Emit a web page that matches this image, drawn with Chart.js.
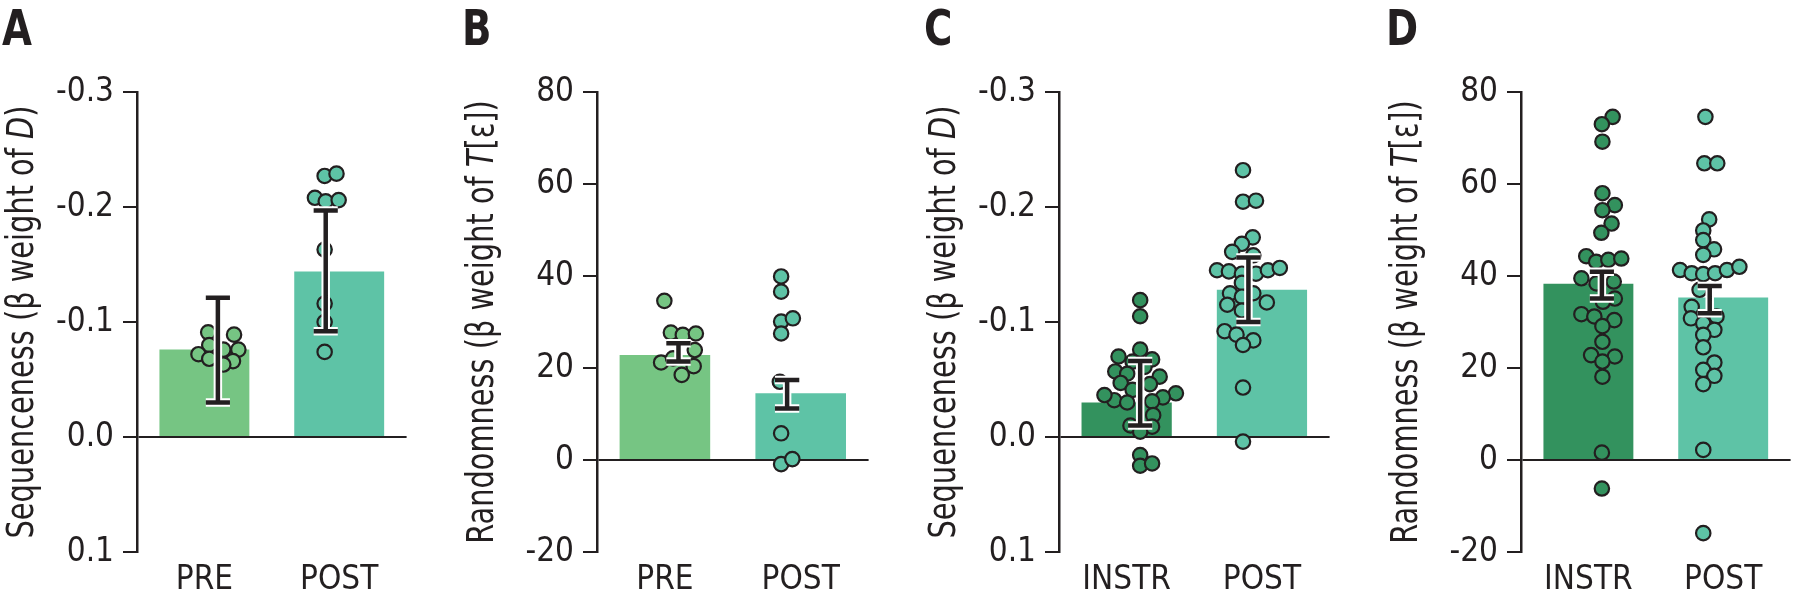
<!DOCTYPE html>
<html>
<head>
<meta charset="utf-8">
<title>Sequenceness and randomness</title>
<script src="https://cdn.jsdelivr.net/npm/chart.js@4.4.1/dist/chart.umd.min.js"></script>
<style>
  html, body { margin: 0; padding: 0; background: #fff; }
  #wrap { position: relative; width: 1800px; height: 600px; overflow: hidden; }
  #wrap canvas { position: absolute; top: 0; }
</style>
</head>
<body>
<div id="wrap">
  <canvas id="chartA"></canvas>
  <canvas id="chartB"></canvas>
  <canvas id="chartC"></canvas>
  <canvas id="chartD"></canvas>
</div>
<script>
// ---- data ----
const seqTicks = [-0.3, -0.2, -0.1, 0.0, 0.1];
const seqTickLabels = ['-0.3', '-0.2', '-0.1', '0.0', '0.1'];
const randTicks = [-20, 0, 20, 40, 60, 80];
const randTickLabels = ['-20', '0', '20', '40', '60', '80'];

// A: sequenceness, PRE vs POST
const labelsA = ['PRE', 'POST'];
const barsA = [-0.076, -0.144];
const errLoA = [-0.030, -0.092];
const errHiA = [-0.121, -0.197];
const dotsA0y = [-0.091, -0.089, -0.080, -0.072, -0.076, -0.076, -0.068, -0.066, -0.063];
const dotsA0x = [-0.09, 0.15, -0.08, -0.18, 0.05, 0.19, -0.08, 0.14, 0.05];
const dotsA1y = [-0.227, -0.229, -0.208, -0.205, -0.206, -0.163, -0.116, -0.100, -0.074];
const dotsA1x = [-0.01, 0.10, -0.10, 0.00, 0.12, -0.01, -0.01, -0.01, -0.01];

// B: randomness, PRE vs POST
const labelsB = ['PRE', 'POST'];
const barsB = [22.8, 14.5];
const errLoB = [21.4, 11.2];
const errHiB = [25.4, 17.4];
const dotsB0y = [34.6, 27.7, 27.2, 27.5, 23.9, 21.2, 20.4, 18.5, 22.1];
const dotsB0x = [-0.13, -0.07, 0.04, 0.16, 0.15, -0.16, 0.14, 0.03, -0.05];
const dotsB1y = [39.9, 36.6, 30.1, 30.8, 27.5, 17.0, 5.8, -0.9, 0.2];
const dotsB1x = [-0.055, -0.055, -0.055, 0.053, -0.055, -0.067, -0.055, -0.055, 0.048];

// C: sequenceness, INSTR vs POST
const labelsC = ['INSTR', 'POST'];
const barsC = [-0.030, -0.128];
const errLoC = [-0.010, -0.100];
const errHiC = [-0.066, -0.156];
const dotsC0y = [-0.119, -0.105, -0.076, -0.070, -0.0675, -0.0655, -0.057, -0.055, -0.0525, -0.047,
                 -0.046, -0.041, -0.038, -0.0345, -0.032, -0.030, -0.031, -0.019, -0.010, -0.009,
                 -0.0046, 0.0157, 0.025, 0.023, -0.0365, -0.061];
const dotsC0x = [0.00, 0.00, 0.00, -0.20, 0.11, -0.07, -0.23, -0.12, 0.18, -0.18,
                 0.09, -0.07, 0.33, 0.21, -0.24, -0.12, 0.11, 0.12, -0.09, 0.11,
                 0.00, 0.00, 0.00, 0.11, -0.33, 0.04];
const dotsC1y = [-0.232, -0.2046, -0.2055, -0.1736, -0.168, -0.161, -0.158, -0.145, -0.144, -0.142,
                 -0.142, -0.145, -0.147, -0.134, -0.125, -0.125, -0.122, -0.115, -0.117, -0.110,
                 -0.092, -0.089, -0.084, -0.080, -0.043, 0.004];
const dotsC1x = [-0.05, -0.05, 0.07, 0.04, -0.06, -0.15, 0.045, -0.29, -0.18, -0.06,
                 0.07, 0.18, 0.29, -0.06, -0.17, 0.045, -0.06, -0.195, 0.17, -0.06,
                 -0.22, -0.11, 0.045, -0.05, -0.05, -0.05];

// D: randomness, INSTR vs POST
const labelsD = ['INSTR', 'POST'];
const barsD = [38.3, 35.3];
const errLoD = [35.1, 31.9];
const errHiD = [40.9, 37.8];
const dotsD0y = [74.6, 73.0, 69.2, 58.0, 55.4, 54.3, 51.4, 49.4, 44.3, 43.1,
                 43.5, 43.8, 39.5, 38.8, 38.4, 35.1, 34.4, 31.7, 31.2, 30.4,
                 29.1, 25.7, 22.8, 22.5, 21.4, 18.1, 1.6, -6.2];
const dotsD0x = [0.10, 0.00, 0.005, 0.005, 0.12, 0.005, 0.09, -0.005, -0.145, -0.053,
                 0.06, 0.18, -0.19, 0.11, -0.05, 0.12, 0.01, -0.19, -0.07, 0.115,
                 0.005, 0.005, -0.10, 0.12, 0.005, 0.005, 0.00, 0.00];
const dotsD1y = [74.6, 64.5, 64.5, 52.3, 49.9, 47.8, 45.8, 44.6, 41.3, 40.6,
                 40.4, 40.6, 41.3, 42.0, 37.0, 33.3, 31.2, 30.8, 29.7, 28.3,
                 27.2, 24.5, 21.2, 19.6, 18.3, 16.5, 2.2, -15.9];
const dotsD1x = [-0.04, -0.05, 0.07, -0.005, -0.06, -0.06, 0.04, -0.06, -0.275, -0.167,
                 -0.06, 0.05, 0.16, 0.275, -0.094, -0.167, 0.063, -0.174, -0.06, 0.043,
                 -0.06, -0.06, 0.043, -0.06, 0.043, -0.06, -0.06, -0.06];

// ---- styles ----
const INK = '#231f20';
const LIGHT = '#76c583';
const TEAL = '#5ec3a6';
const DARK = '#33925e';
const FAMILY = '"DejaVu Sans Condensed", "Liberation Sans", sans-serif';
const AXIS_W = 137;
const CAP = 0.112;
const SQUEEZE = 0.866; // the original type is a narrow face

function dots(xs, ys, cat) {
    return ys.map((y, i) => ({ x: cat + 0.5 + xs[i], y: y }));
}

function errSegments(lo, hi) {
    const pts = [];
    lo.forEach((l, i) => {
        const c = i + 0.5;
        const h = hi[i];
        pts.push({ x: c - CAP, y: h }, { x: c + CAP, y: h }, { x: c, y: null },
                 { x: c, y: h }, { x: c, y: l }, { x: c, y: null },
                 { x: c - CAP, y: l }, { x: c + CAP, y: l }, { x: c, y: null });
    });
    return pts;
}

// panel letter + y title with italic symbol
const panelText = {
    id: 'panelText',
    afterDraw(chart, args, opts) {
        const { ctx, chartArea } = chart;
        ctx.save();
        ctx.fillStyle = INK;
        ctx.translate(chartArea.left - 135, 45);
        ctx.scale(0.86, 1);
        ctx.font = 'bold 50px ' + FAMILY;
        ctx.textAlign = 'left';
        ctx.textBaseline = 'alphabetic';
        ctx.fillText(opts.letter, 0, 0);
        ctx.restore();

        ctx.save();
        ctx.fillStyle = INK;
        ctx.translate(chartArea.left - 114, (chartArea.top + chartArea.bottom) / 2);
        ctx.rotate(-Math.PI / 2);
        ctx.scale(SQUEEZE, 1);
        ctx.textBaseline = 'middle';
        const fonts = opts.title.map(s => (s.italic ? 'italic ' : '') + '37px ' + FAMILY);
        let total = 0;
        const widths = opts.title.map((s, i) => {
            ctx.font = fonts[i];
            const w = ctx.measureText(s.text).width;
            total += w;
            return w;
        });
        let x = -total / 2;
        opts.title.forEach((s, i) => {
            ctx.font = fonts[i];
            ctx.fillText(s.text, x, 0);
            x += widths[i];
        });
        ctx.restore();
    }
};

function makePanel(id, p) {
    const canvas = document.getElementById(id);
    canvas.width = AXIS_W + p.plotW + 3;
    canvas.height = 600;
    canvas.style.left = (p.axisX - AXIS_W) + 'px';

    const dotStyle = color => ({
        type: 'scatter',
        xAxisID: 'x2',
        backgroundColor: color,
        borderColor: INK,
        borderWidth: 2.2,
        pointRadius: 7.2,
        order: 2
    });

    return new Chart(canvas, {
        type: 'bar',
        data: {
            labels: p.labels,
            datasets: [
                {
                    data: p.bars,
                    backgroundColor: p.colors,
                    borderWidth: 0,
                    grouped: false,
                    barPercentage: 0.667,
                    categoryPercentage: 1,
                    order: 3
                },
                Object.assign(dotStyle(p.colors[0]), { data: p.dots0 }),
                Object.assign(dotStyle(p.colors[1]), { data: p.dots1 }),
                {
                    type: 'line',
                    xAxisID: 'x2',
                    data: errSegments(p.errLo, p.errHi),
                    borderColor: '#ffffff',
                    borderWidth: 8.5,
                    pointRadius: 0,
                    spanGaps: false,
                    order: 1
                },
                {
                    type: 'line',
                    xAxisID: 'x2',
                    data: errSegments(p.errLo, p.errHi),
                    borderColor: INK,
                    borderWidth: 4.5,
                    pointRadius: 0,
                    spanGaps: false,
                    order: 0
                }
            ]
        },
        options: {
            responsive: false,
            animation: false,
            events: [],
            layout: { padding: { top: 92, right: 3, left: 0, bottom: 0 } },
            plugins: {
                legend: { display: false },
                tooltip: { enabled: false },
                panelText: { letter: p.letter, title: p.title }
            },
            scales: {
                x: {
                    type: 'category',
                    offset: true,
                    grid: { display: false, drawTicks: false },
                    border: { display: false },
                    ticks: { color: INK, font: { family: FAMILY, size: 33 }, padding: 9 },
                    afterFit: s => { s.height = 48; }
                },
                x2: { type: 'linear', min: 0, max: 2, display: false },
                y: {
                    min: p.min,
                    max: p.max,
                    reverse: p.reverse,
                    afterBuildTicks: s => { s.ticks = p.ticks.map(v => ({ value: v })); },
                    afterFit: s => { s.width = AXIS_W; },
                    ticks: {
                        color: INK,
                        font: { family: FAMILY, size: 33 },
                        padding: 9,
                        callback: (v, i) => p.tickLabels[i]
                    },
                    grid: {
                        drawOnChartArea: true,
                        color: c => (c.tick && c.tick.value === 0 ? INK : 'rgba(0,0,0,0)'),
                        tickColor: INK,
                        tickLength: 14,
                        lineWidth: 2
                    },
                    border: { display: true, color: INK, width: 2.5 }
                }
            }
        },
        plugins: [panelText]
    });
}

const seqTitle = [{ text: 'Sequenceness (\u03b2 weight of ' }, { text: 'D', italic: true }, { text: ')' }];
const randTitle = [{ text: 'Randomness (\u03b2 weight of ' }, { text: 'T', italic: true }, { text: '[\u03b5])' }];

makePanel('chartA', {
    letter: 'A', title: seqTitle, axisX: 137, plotW: 276,
    labels: labelsA, bars: barsA, colors: [LIGHT, TEAL],
    dots0: dots(dotsA0x, dotsA0y, 0), dots1: dots(dotsA1x, dotsA1y, 1),
    errLo: errLoA, errHi: errHiA,
    min: -0.3, max: 0.1, reverse: true, ticks: seqTicks, tickLabels: seqTickLabels
});
makePanel('chartB', {
    letter: 'B', title: randTitle, axisX: 597, plotW: 278,
    labels: labelsB, bars: barsB, colors: [LIGHT, TEAL],
    dots0: dots(dotsB0x, dotsB0y, 0), dots1: dots(dotsB1x, dotsB1y, 1),
    errLo: errLoB, errHi: errHiB,
    min: -20, max: 80, reverse: false, ticks: randTicks, tickLabels: randTickLabels
});
makePanel('chartC', {
    letter: 'C', title: seqTitle, axisX: 1059, plotW: 277,
    labels: labelsC, bars: barsC, colors: [DARK, TEAL],
    dots0: dots(dotsC0x, dotsC0y, 0), dots1: dots(dotsC1x, dotsC1y, 1),
    errLo: errLoC, errHi: errHiC,
    min: -0.3, max: 0.1, reverse: true, ticks: seqTicks, tickLabels: seqTickLabels
});
makePanel('chartD', {
    letter: 'D', title: randTitle, axisX: 1521, plotW: 276,
    labels: labelsD, bars: barsD, colors: [DARK, TEAL],
    dots0: dots(dotsD0x, dotsD0y, 0), dots1: dots(dotsD1x, dotsD1y, 1),
    errLo: errLoD, errHi: errHiD,
    min: -20, max: 80, reverse: false, ticks: randTicks, tickLabels: randTickLabels
});
</script>
</body>
</html>
